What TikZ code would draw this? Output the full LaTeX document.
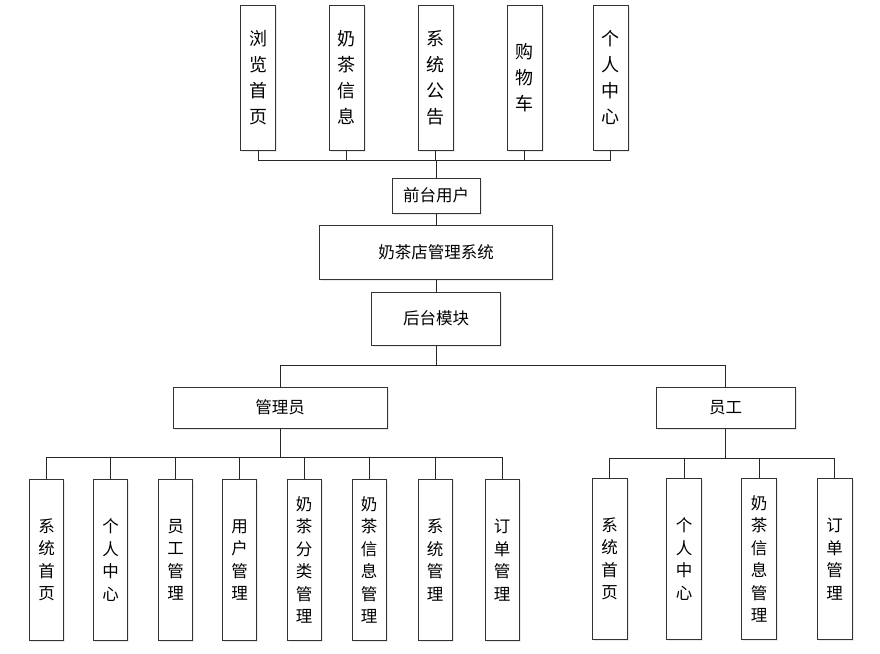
\documentclass[tikz,border=0pt]{standalone}
\usepackage{fontspec}
\newfontfamily\cjk{Noto Sans CJK SC}
\usetikzlibrary{shadows}
\tikzset{
  box/.style={draw=black!80, line width=1pt, fill=white, inner sep=0pt,
    drop shadow={shadow xshift=1.5pt, shadow yshift=-1.5pt, fill=black!8, opacity=1},
    font=\cjk\fontsize{16.5}{20}\selectfont, align=center},
  topbox/.style={box, minimum width=35, minimum height=145, font=\cjk\fontsize{18}{26}\selectfont},
  leafbox/.style={box, minimum width=34, minimum height=161, font=\cjk\fontsize{16.5}{22.5}\selectfont},
  conn/.style={draw=black!85, line width=1pt}
}
\begin{document}
\begin{tikzpicture}[x=1pt,y=-1pt]
\useasboundingbox (0,0) rectangle (880,653);
% top row
\node[topbox] (t1) at (258,77.5) {浏\\览\\首\\页};
\node[topbox] (t2) at (346.5,77.5) {奶\\茶\\信\\息};
\node[topbox] (t3) at (435.5,77.5) {系\\统\\公\\告};
\node[topbox] (t4) at (524.5,77.5) {购\\物\\车};
\node[topbox] (t5) at (610.5,77.5) {个\\人\\中\\心};
% middle
\node[box, minimum width=88, minimum height=35] (fu) at (436,195.5) {前台用户};
\node[box, minimum width=233, minimum height=54] (sys) at (436,252) {奶茶店管理系统};
\node[box, minimum width=129, minimum height=53] (hb) at (436,318.5) {后台模块};
\node[box, minimum width=214, minimum height=41] (adm) at (280,407.5) {管理员};
\node[box, minimum width=139, minimum height=41] (stf) at (725.5,407.5) {员工};
% admin leaves
\node[leafbox] (a1) at (46.5,560) {系\\统\\首\\页};
\node[leafbox] (a2) at (110.5,560) {个\\人\\中\\心};
\node[leafbox] (a3) at (175.5,560) {员\\工\\管\\理};
\node[leafbox] (a4) at (239.5,560) {用\\户\\管\\理};
\node[leafbox] (a5) at (304,560) {奶\\茶\\分\\类\\管\\理};
\node[leafbox] (a6) at (369,560) {奶\\茶\\信\\息\\管\\理};
\node[leafbox] (a7) at (435,560) {系\\统\\管\\理};
\node[leafbox] (a8) at (502,560) {订\\单\\管\\理};
% staff leaves
\node[leafbox, minimum width=35] (s1) at (609.5,559) {系\\统\\首\\页};
\node[leafbox, minimum width=35] (s2) at (684,559) {个\\人\\中\\心};
\node[leafbox, minimum width=35] (s3) at (759,559) {奶\\茶\\信\\息\\管\\理};
\node[leafbox, minimum width=35] (s4) at (834.5,559) {订\\单\\管\\理};
% bus points
\coordinate (busT) at (436,160);
\coordinate (busB) at (436,365);
\coordinate (busA) at (280,457);
\coordinate (busS) at (725.5,458);
% connectors
\foreach \n in {t1,t2,t3,t4,t5} \draw[conn] (\n.south) |- (busT);
\draw[conn] (busT) -- (fu.north);
\draw[conn] (fu.south) -- (sys.north);
\draw[conn] (sys.south) -- (hb.north);
\draw[conn] (hb.south) -- (busB);
\draw[conn] (adm.north) |- (busB);
\draw[conn] (stf.north) |- (busB);
\draw[conn] (adm.south) -- (busA);
\foreach \n in {a1,a2,a3,a4,a5,a6,a7,a8} \draw[conn] (\n.north) |- (busA);
\draw[conn] (stf.south) -- (busS);
\foreach \n in {s1,s2,s3,s4} \draw[conn] (\n.north) |- (busS);
\end{tikzpicture}
\end{document}
